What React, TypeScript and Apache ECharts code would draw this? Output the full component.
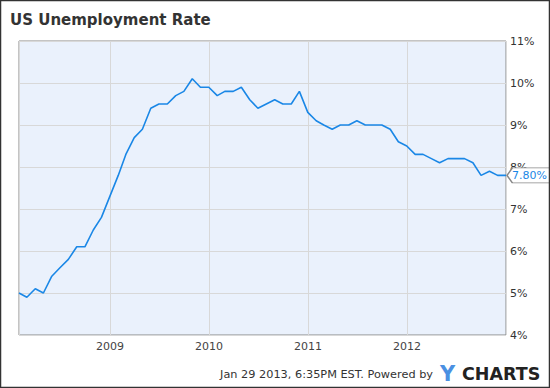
import React, { useEffect, useRef } from "react";
import * as echarts from "echarts";

const years = [2008, 2009, 2010, 2011, 2012];
const rate2008 = [5.0, 4.9, 5.1, 5.0, 5.4, 5.6, 5.8, 6.1, 6.1, 6.5, 6.8, 7.3];
const rate2009 = [7.8, 8.3, 8.7, 8.9, 9.4, 9.5, 9.5, 9.7, 9.8, 10.1, 9.9, 9.9];
const rate2010 = [9.7, 9.8, 9.8, 9.9, 9.6, 9.4, 9.5, 9.6, 9.5, 9.5, 9.8, 9.3];
const rate2011 = [9.1, 9.0, 8.9, 9.0, 9.0, 9.1, 9.0, 9.0, 9.0, 8.9, 8.6, 8.5];
const rate2012 = [8.3, 8.3, 8.2, 8.1, 8.2, 8.2, 8.2, 8.1, 7.8, 7.9, 7.8, 7.8];
const yTicks = [4, 5, 6, 7, 8, 9, 10, 11];
const title = "US Unemployment Rate";
const footer = "Jan 29 2013, 6:35PM EST. Powered by";

const FONT = "DejaVu Sans";

export default function App() {
  const ref = useRef<HTMLDivElement>(null);
  useEffect(() => {
    if (!ref.current) return;
    const chart = echarts.init(ref.current, null, { renderer: "svg" });
    const all = [rate2008, rate2009, rate2010, rate2011, rate2012];
    const data: [number, number][] = [];
    years.forEach((y, yi) => {
      all[yi].forEach((v, m) => {
        // month-end date
        const d = new Date(y, m + 1, 0).getTime();
        data.push([d, v]);
      });
    });
    const last = data[data.length - 1];
    chart.setOption({
      animation: false,
      backgroundColor: "#ffffff",
      grid: {
        left: 19,
        top: 41,
        width: 487,
        height: 294,
        show: true,
        backgroundColor: "#eaf1fc",
        borderColor: "#888888",
        borderWidth: 1,
        containLabel: false,
      },
      xAxis: {
        type: "time",
        min: "dataMin",
        max: "dataMax",
        minInterval: 365 * 24 * 3600 * 1000,
        splitNumber: 5,
        axisLine: { show: false },
        axisTick: { show: false },
        splitLine: { show: true, lineStyle: { color: "#d8d8d8", width: 1 } },
        axisLabel: {
          formatter: "{yyyy}",
          color: "#444444",
          fontFamily: FONT,
          fontSize: 11,
          margin: 6,
          showMinLabel: false,
          showMaxLabel: false,
        },
      },
      yAxis: {
        type: "value",
        position: "right",
        min: yTicks[0],
        max: yTicks[yTicks.length - 1],
        interval: 1,
        axisLine: { show: false },
        axisTick: { show: false },
        splitLine: { show: true, lineStyle: { color: "#d8d8d8", width: 1 } },
        axisLabel: {
          formatter: "{value}%",
          color: "#333333",
          fontFamily: FONT,
          fontSize: 11,
          margin: 4,
        },
      },
      series: [
        {
          type: "line",
          data,
          showSymbol: false,
          lineStyle: { color: "#1a87e6", width: 1.6 },
          itemStyle: { color: "#1a87e6" },
          z: 3,
          markPoint: {
            silent: true,
            symbol: "path://M0,8 L6,0 L48,0 L48,16 L6,16 Z",
            symbolSize: [43, 15],
            symbolOffset: [22.5, 0],
            symbolKeepAspect: false,
            itemStyle: { color: "#ffffff", borderColor: "#888888", borderWidth: 1 },
            label: {
              show: true,
              position: "inside",
              formatter: `${last[1].toFixed(2)}%`,
              color: "#1a87e6",
              fontFamily: FONT,
              fontSize: 11,
              offset: [1, 0],
            },
            data: [{ coord: last, value: last[1] }],
            z: 10,
          },
        },
      ],
      graphic: [
        {
          type: "rect",
          shape: { x: 0.5, y: 0.5, width: 549, height: 387 },
          style: { fill: "none", stroke: "#333333", lineWidth: 1.5 },
          silent: true,
          z: 100,
        },
        {
          type: "text",
          x: 10,
          y: 20,
          style: {
            text: title,
            fill: "#333333",
            font: `bold 15px "${FONT}"`,
            verticalAlign: "middle",
          },
        },
        {
          type: "text",
          x: 433,
          y: 374,
          style: {
            text: footer,
            fill: "#333333",
            font: `11.3px "${FONT}"`,
            align: "right",
            verticalAlign: "middle",
          },
        },
        {
          type: "text",
          x: 440,
          y: 374,
          style: {
            text: "Y",
            fill: "#4a90e2",
            font: `bold 21px "${FONT}"`,
            verticalAlign: "middle",
          },
        },
        {
          type: "text",
          x: 462,
          y: 374,
          style: {
            text: "CHARTS",
            fill: "#222222",
            font: `bold 17.5px "${FONT}"`,
            verticalAlign: "middle",
          },
        },
      ],
    });
    return () => chart.dispose();
  }, []);
  return (
    <div
      ref={ref}
      style={{ position: "fixed", left: 0, top: 0, width: 550, height: 388 }}
    />
  );
}
